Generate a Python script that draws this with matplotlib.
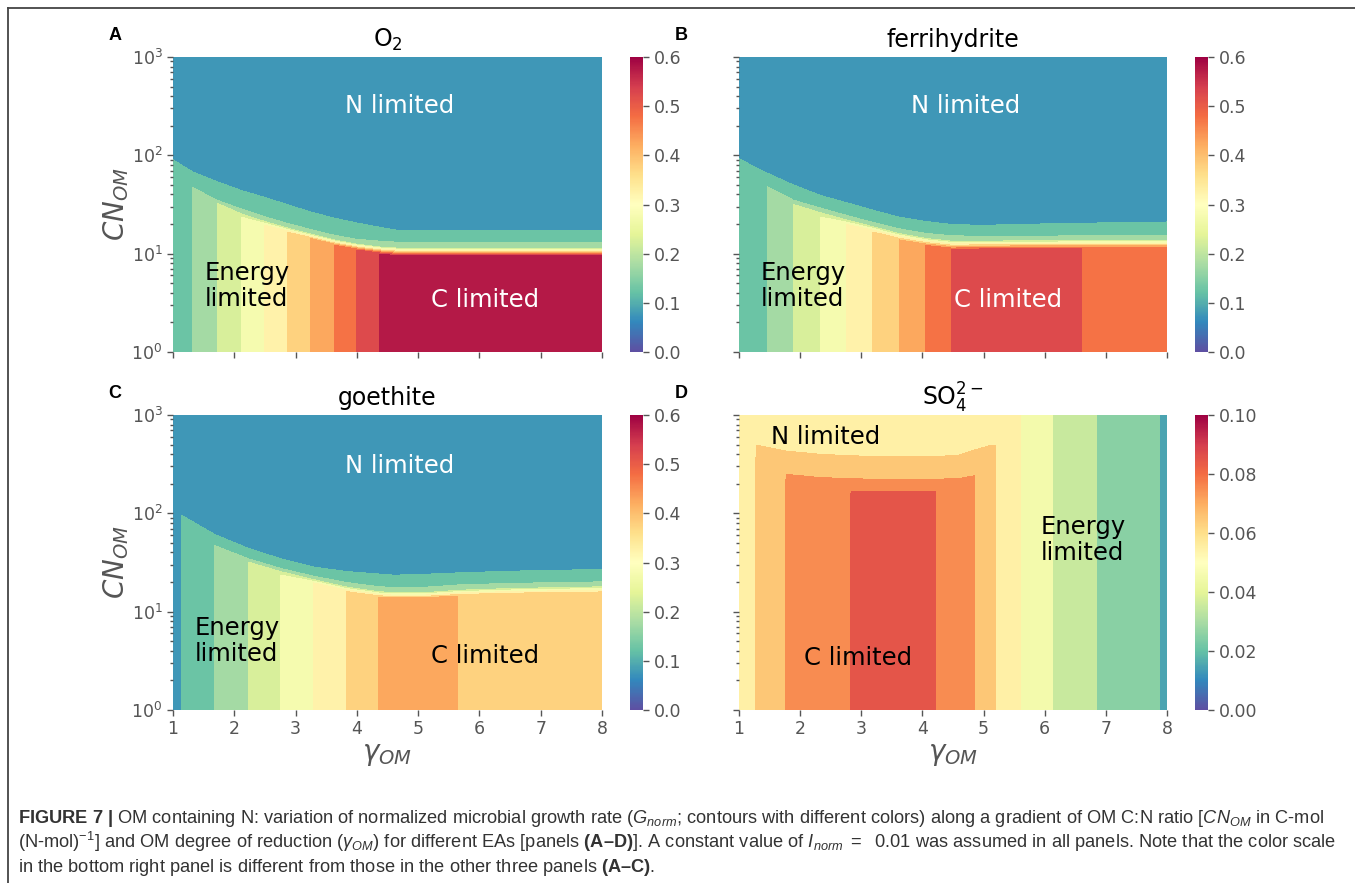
import numpy as np
import matplotlib
matplotlib.use('Agg')
import matplotlib.pyplot as plt
from matplotlib.lines import Line2D
from matplotlib.colors import Normalize

# ---- data ----
# rows of the grid: CN where the N limitation starts, where G reaches 0.2, 0.15 and 0.1
# panel A, O2
gam_a = [1.0, 1.32, 1.72, 2.11, 2.49, 2.87, 3.25, 3.63, 4.0, 4.37, 4.65, 5.5, 6.5, 8.0]
g_a = [0.108, 0.15, 0.2, 0.25, 0.3, 0.35, 0.4, 0.45, 0.5, 0.55, 0.58, 0.58, 0.58, 0.58]
base_a = [60, 45, 31, 23.5, 19.5, 16.5, 14.2, 12.2, 10.9, 9.9, 9.4, 9.4, 9.4, 9.4]
cn20_a = [64, 47, 32.5, 25.5, 21.3, 18.2, 15.8, 13.8, 12.5, 11.7, 11.4, 11.4, 11.4, 11.4]
cn15_a = [70, 48, 35, 28.5, 23.8, 20.3, 17.6, 15.4, 14.0, 13.4, 13.1, 13.1, 13.1, 13.1]
cn10_a = [90, 68, 54, 44, 37.5, 31.5, 26.5, 23, 20.5, 18.6, 17.3, 17.3, 17.3, 17.3]

# panel B, ferrihydrite
gam_b = [1.0, 1.46, 1.89, 2.34, 2.76, 3.19, 3.62, 4.05, 4.48, 5.0, 5.6, 6.1, 6.6, 8.0]
g_b = [0.105, 0.15, 0.2, 0.25, 0.3, 0.35, 0.4, 0.45, 0.5, 0.525, 0.53, 0.52, 0.5, 0.47]
base_b = [60, 46, 30, 23.5, 19.8, 16.6, 13.8, 12.1, 11.0, 11.0, 11.0, 11.1, 11.2, 11.4]
cn20_b = [66, 48, 31.6, 26, 22, 18.8, 16.0, 14.3, 13.4, 13.4, 13.5, 13.5, 13.6, 13.6]
cn15_b = [72, 49.5, 35, 29, 24.5, 20.8, 17.9, 16.1, 15.2, 15.0, 15.1, 15.1, 15.2, 15.2]
cn10_b = [92, 66, 50, 39, 33, 27.7, 23.5, 21.3, 19.8, 19.4, 19.9, 20.1, 20.4, 21.0]

# panel C, goethite
gam_c = [1.0, 1.134, 1.68, 2.23, 2.76, 3.29, 3.83, 4.35, 4.6, 5.1, 5.65, 6.5, 8.0]
g_c = [0.095, 0.1, 0.15, 0.2, 0.25, 0.3, 0.35, 0.4, 0.415, 0.42, 0.4, 0.385, 0.37]
base_c = [80, 78, 46, 30.5, 23.5, 19.6, 16.0, 14.0, 13.7, 13.7, 14.4, 15.0, 15.6]
cn20_c = [84, 82, 47, 31.9, 25.5, 21.2, 17.8, 16.0, 15.6, 15.6, 16.5, 17.2, 17.9]
cn15_c = [88, 86, 48.6, 34.5, 27.5, 23.0, 19.8, 18.0, 17.6, 17.7, 18.7, 19.4, 20.1]
cn10_c = [96, 96, 61, 44, 34.5, 28.5, 25.6, 24.2, 23.5, 24.0, 24.8, 25.8, 26.9]

# panel D, sulfate (rows: CN where N limitation starts, where G reaches 0.08, 0.07, 0.06)
gam_d = [1.0, 1.28, 1.77, 2.3, 2.84, 3.52, 4.21, 4.6, 4.85, 5.1, 5.19, 5.61, 6.14, 6.86, 7.88, 8.0]
g_d = [0.0543, 0.0601, 0.0701, 0.0762, 0.0801, 0.086, 0.0801, 0.0739, 0.0701, 0.0626, 0.0601,
       0.05, 0.04, 0.03, 0.02, 0.0188]
base_d = [158, 158, 158, 158, 158, 158, 158, 158, 158, 158, 158, 158, 158, 158, 158, 158]
cn80_d = [166, 166, 166, 166, 166, 166, 166, 166, 166, 166, 166, 166, 166, 166, 166, 166]
cn70_d = [260, 255, 249, 232, 224, 222, 222, 226, 241, 260, 270, 280, 280, 280, 280, 280]
cn60_d = [500, 495, 430, 400, 384, 378, 378, 390, 440, 487, 490, 500, 500, 500, 500, 500]

g_top_ac = 0.07    # G at CN = 1000 in the N limited region
g_top_d = 0.051

titles = ['O$_2$', 'ferrihydrite', 'goethite', 'SO$_4^{2-}$']
letters = ['A', 'B', 'C', 'D']


def grid(gam, g, rows):
    n = len(gam)
    X = np.tile(np.array(gam, float), (len(rows), 1))
    Y = np.array([cn if np.ndim(cn) else [cn] * n for cn, cap in rows], float)
    Z = np.array([np.minimum(g, cap) for cn, cap in rows])
    return X, Y, Z


inf = np.inf
fields = [
    grid(gam_a, g_a, [(1, inf), (base_a, inf), (cn20_a, 0.2), (cn15_a, 0.15), (cn10_a, 0.1), (1000, g_top_ac)]),
    grid(gam_b, g_b, [(1, inf), (base_b, inf), (cn20_b, 0.2), (cn15_b, 0.15), (cn10_b, 0.1), (1000, g_top_ac)]),
    grid(gam_c, g_c, [(1, inf), (base_c, inf), (cn20_c, 0.2), (cn15_c, 0.15), (cn10_c, 0.1), (1000, g_top_ac)]),
    grid(gam_d, g_d, [(1, inf), (base_d, inf), (cn80_d, 0.08), (cn70_d, 0.07), (cn60_d, 0.06), (1000, g_top_d)]),
]
levels = [np.linspace(0, 0.6, 13)] * 3 + [np.linspace(0, 0.1, 11)]
cticks = [np.linspace(0, 0.6, 7)] * 3 + [np.linspace(0, 0.1, 6)]
cfmt = ['%.1f'] * 3 + ['%.2f']

# region labels: (text, gamma, CN, colour, ha)
labels = [
    [('N limited', 4.7, 316, 'white', 'center'), ('Energy\nlimited', 1.52, 4.7, 'black', 'left'),
     ('C limited', 6.1, 3.4, 'white', 'center')],
    [('N limited', 4.7, 316, 'white', 'center'), ('Energy\nlimited', 1.36, 4.7, 'black', 'left'),
     ('C limited', 5.4, 3.4, 'white', 'center')],
    [('N limited', 4.7, 300, 'white', 'center'), ('Energy\nlimited', 1.36, 5.0, 'black', 'left'),
     ('C limited', 6.1, 3.5, 'black', 'center')],
    [('N limited', 2.42, 600, 'black', 'center'), ('Energy\nlimited', 5.93, 53, 'black', 'left'),
     ('C limited', 2.94, 3.4, 'black', 'center')],
]

W, H = 1355, 883
fig = plt.figure(figsize=(W / 100, H / 100), dpi=100)


def rect(x0, y0, x1, y1):
    return [x0 / W, 1 - y1 / H, (x1 - x0) / W, (y1 - y0) / H]


ax_px = [(173, 57, 602, 352), (739, 57, 1167, 352), (173, 415, 602, 710), (739, 415, 1167, 710)]
cb_px = [(630, 57, 643, 352), (1195, 57, 1208, 352), (630, 415, 643, 710), (1195, 415, 1208, 710)]
grey = '#555555'

for i in range(4):
    ax = fig.add_axes(rect(*ax_px[i]))
    X, Y, Z = fields[i]
    ax.contourf(X, Y, Z, levels=levels[i], cmap='Spectral_r')
    ax.set_yscale('log')
    ax.set_xlim(1, 8)
    ax.set_ylim(1, 1000)
    ax.set_xticks(range(1, 9))
    for s in ax.spines.values():
        s.set_visible(False)
    ax.tick_params(which='major', direction='out', length=4, width=1, color=grey,
                   labelcolor=grey, labelsize=12.5)
    ax.tick_params(which='minor', direction='out', length=2, width=1, color=grey)
    if i < 2:
        ax.tick_params(labelbottom=False)
    else:
        ax.set_xlabel(r'$\gamma_{OM}$', fontsize=20, color=grey)
        ax.xaxis.set_label_coords(0.5, -0.1)
    if i % 2 == 1:
        ax.tick_params(which='both', labelleft=False)
    else:
        ax.set_ylabel(r'$CN_{OM}$', fontsize=20, color=grey)
        ax.yaxis.set_label_coords(-0.098, 0.5)
    ax.set_title(titles[i], fontsize=17, pad=7)
    for txt, gx, cy, col, ha in labels[i]:
        ax.text(gx, cy, txt, color=col, ha=ha, va='center', fontsize=17.5, linespacing=1.1)
    x0, y0 = ax_px[i][0], ax_px[i][1]
    fig.text((x0 - 58) / W, 1 - (y0 - 22) / H, letters[i], fontsize=13, fontweight='bold',
             family=['Liberation Sans', 'DejaVu Sans'], ha='center', va='center')

    cax = fig.add_axes(rect(*cb_px[i]))
    sm = plt.cm.ScalarMappable(norm=Normalize(levels[i][0], levels[i][-1]), cmap='Spectral_r')
    cb = fig.colorbar(sm, cax=cax, ticks=cticks[i], format=cfmt[i])
    cb.outline.set_visible(False)
    cax.tick_params(length=4, width=1, color=grey, labelcolor=grey, labelsize=12.5)

# frame around the figure and caption
fig.add_artist(Line2D([8 / W, 1], [1 - 8 / H, 1 - 8 / H], transform=fig.transFigure,
                      color='#444444', lw=1.3))
fig.add_artist(Line2D([8 / W, 8 / W], [0, 1 - 8 / H], transform=fig.transFigure,
                      color='#444444', lw=1.3))

plt.rcParams['mathtext.rm'] = 'Liberation Sans'
plt.rcParams['mathtext.it'] = 'Liberation Sans:italic'
plt.rcParams['mathtext.bf'] = 'Liberation Sans:bold'
caption = [
    r"$\mathbf{FIGURE\ 7\ |}$ OM containing N: variation of normalized microbial growth rate ($G_{norm}$; "
    r"contours with different colors) along a gradient of OM C:N ratio [$CN_{OM}$ in C-mol",
    r"(N-mol)$^{-1}$] and OM degree of reduction ($\gamma_{OM}$) for different EAs [panels $\mathbf{(A–D)}$]. "
    r"A constant value of $I_{norm}\ =\ $ 0.01 was assumed in all panels. Note that the color scale",
    r"in the bottom right panel is different from those in the other three panels $\mathbf{(A–C)}$.",
]
cap_y = [823, 847.5, 872]
cap_txt = []
for line, yb in zip(caption, cap_y):
    t = fig.text(18 / W, 1 - yb / H, line, fontsize=10, color='#333333', va='baseline',
                 family='Liberation Sans', math_fontfamily='custom')
    cap_txt.append(t)
fig.canvas.draw()
wid = cap_txt[0].get_window_extent().width
for t in cap_txt:
    t.set_fontsize(10 * 1310 / wid)

fig.savefig('out.png', dpi=100)
